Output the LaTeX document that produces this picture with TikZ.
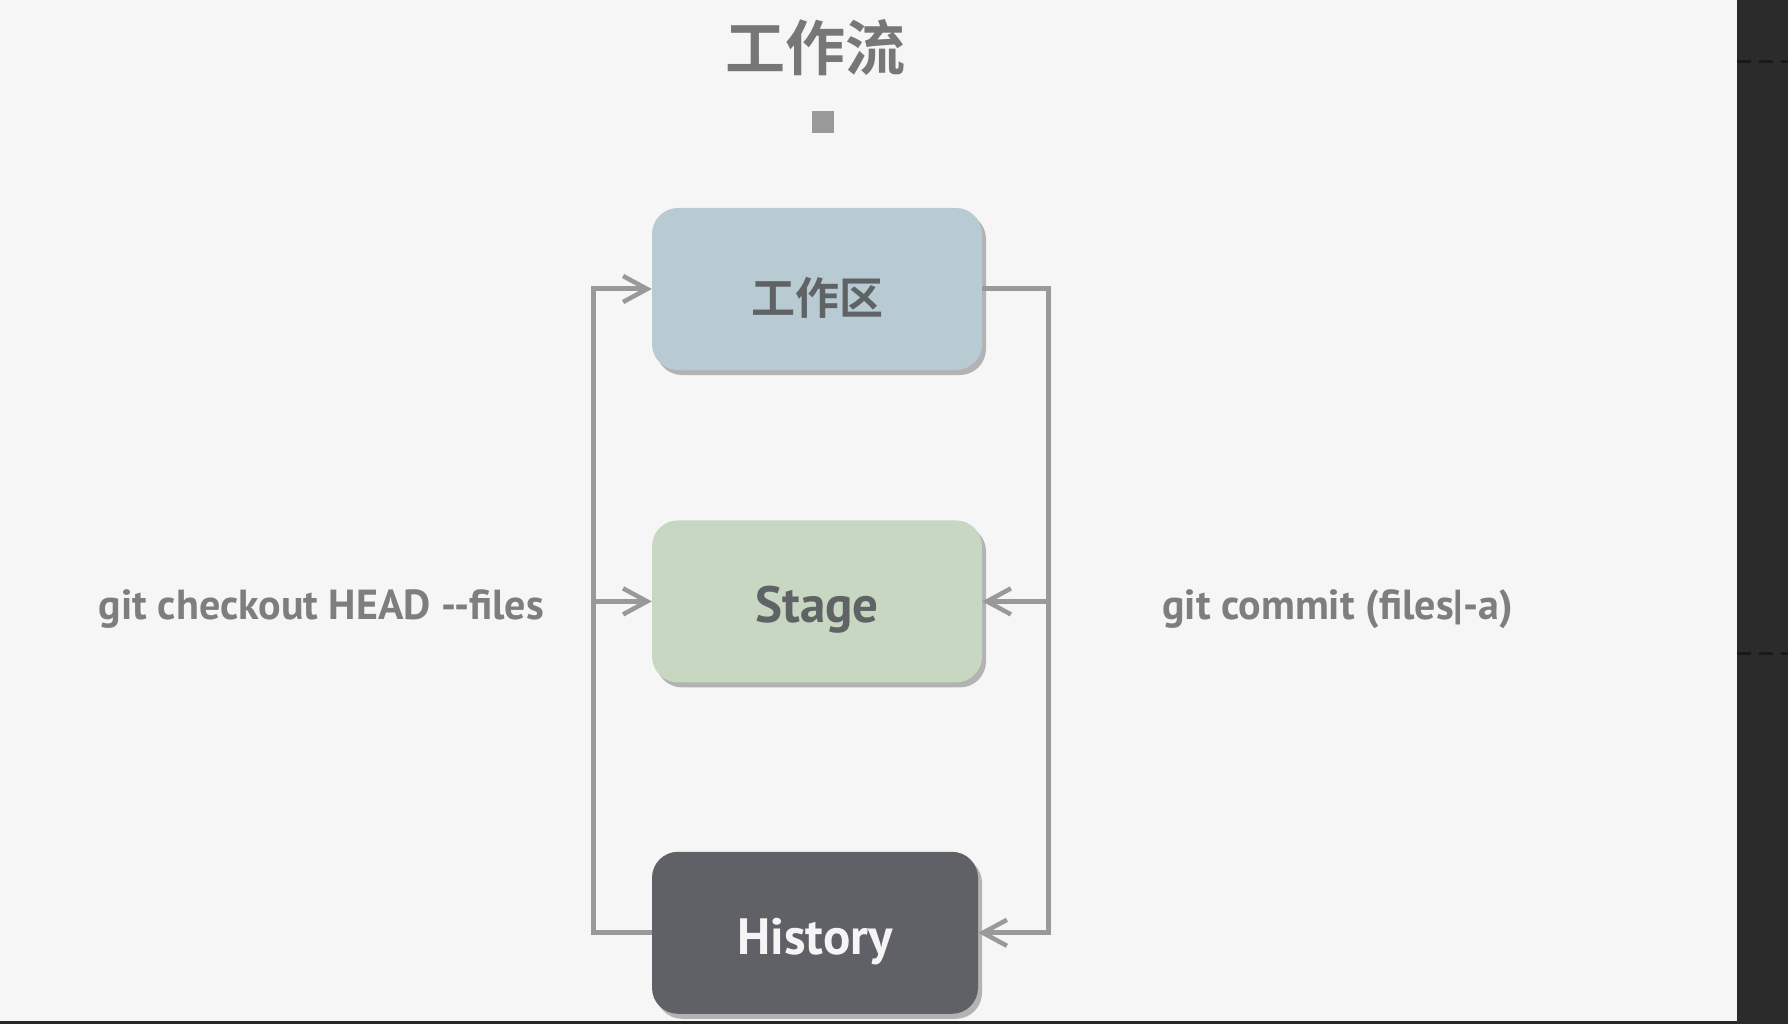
\documentclass[tikz,border=0pt]{standalone}
\usepackage{fontspec}
\setmainfont{PT Sans}
\newfontfamily\cjkbold{Noto Sans CJK SC Bold}
\usepackage{tikz}
\usetikzlibrary{arrows.meta,positioning,shadows}
\definecolor{pagebg}{HTML}{F6F6F6}
\definecolor{panelbg}{HTML}{2B2B2B}
\definecolor{workfill}{HTML}{B8CBD2}
\definecolor{stagefill}{HTML}{C7D7C1}
\definecolor{histfill}{HTML}{606166}
\definecolor{shadowgray}{HTML}{B3B3B3}
\definecolor{linegray}{HTML}{999999}
\definecolor{boxtext}{HTML}{5F6366}
\definecolor{labeltext}{HTML}{7E7E7E}
\definecolor{titlegray}{HTML}{777777}
\tikzset{areabox/.style={
    % The shape:
    rectangle,
    rounded corners=26pt,
    % The size:
    minimum width=330pt,
    minimum height=162pt,
    inner sep=0pt,
    % The shadow:
    drop shadow={shadow xshift=4pt,shadow yshift=-5pt,fill=shadowgray,opacity=1},
    % Font
    font=\bfseries\fontsize{51}{60}\selectfont,
    text=boxtext,
    text height=43pt,
    text depth=0pt,
    },
    cmdlabel/.style={
    font=\bfseries\fontsize{42}{50}\selectfont,
    text=labeltext,
    inner sep=0pt,
    },
    flow/.style={
    draw=linegray,
    line width=5pt,
    -{Straight Barb[length=24pt,width=26pt,line width=4.5pt]},
    },
}

\begin{document}
\begin{tikzpicture}[x=1pt,y=-1pt]
    \useasboundingbox (0,0) rectangle (1788,1024);
    \fill[pagebg] (0,0) rectangle (1788,1024);
    % side panel and bottom edge
    \fill[panelbg] (1737,0) rectangle (1788,1024);
    \draw[black!90,line width=3pt,dash pattern=on 14pt off 8pt] (1737,62) -- (1788,62);
    \draw[black!90,line width=3pt,dash pattern=on 14pt off 8pt] (1737,653) -- (1788,653);
    \fill[black!85] (0,1021) rectangle (1737,1024);

    \node (title) at (815,48) [font=\cjkbold\fontsize{60}{60}\selectfont,text=titlegray] {工作流};
    \node (mark)  at (823,122) [fill=linegray,minimum size=22pt,inner sep=0pt] {};

    \node (work)  at (817,289) [areabox,fill=workfill,font=\cjkbold\fontsize{44}{50}\selectfont,text height=50pt] {工作区};
    \node (stage) [areabox,fill=stagefill,below=150pt of work]  {Stage};
    \node (hist)  [areabox,fill=histfill,text=white!96!black,below=169pt of stage,minimum width=326pt,xshift=-2pt] {History};

    \coordinate (lft) at (593,0);
    \coordinate (rgt) at (1048,0);

    \draw[flow] (hist.west) -- (hist.west -| lft) |- (work.west);
    \draw[flow] (stage.west -| lft) -- (stage.west);
    \draw[flow] (work.east) -- (work.east -| rgt) |- (hist.east);
    \draw[flow] (stage.east -| rgt) -- (stage.east);

    \node (checkout) at (544,619) [cmdlabel,anchor=base east] {git checkout HEAD -{}-files};
    \node (commit)   at (1162,619) [cmdlabel,anchor=base west] {git commit (files|-a)};
\end{tikzpicture}
\end{document}
